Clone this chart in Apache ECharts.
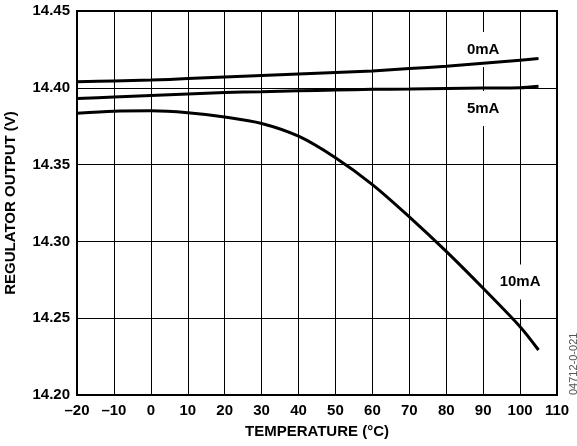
<!DOCTYPE html>
<html>
<head>
<meta charset="utf-8">
<script src="https://cdn.jsdelivr.net/npm/echarts@6/dist/echarts.min.js"></script>
<style>
  html, body { margin: 0; padding: 0; background: #fff; }
  #chart { width: 577px; height: 446px; }
</style>
</head>
<body>
<div id="chart"></div>
<script>
// Temperature sweep (°C) and regulator output (V) at three load currents
const temperature = [-20, -10, 0, 10, 20, 30, 40, 50, 60, 70, 80, 90, 100, 105];
const output0mA  = [14.404, 14.4045, 14.405, 14.406, 14.407, 14.408, 14.409, 14.410, 14.411, 14.4125, 14.414, 14.416, 14.418, 14.419];
const output5mA  = [14.393, 14.394, 14.395, 14.396, 14.397, 14.3975, 14.398, 14.3985, 14.399, 14.3992, 14.3995, 14.3998, 14.400, 14.401];
const output10mA = [14.3834, 14.3848, 14.385, 14.3838, 14.381, 14.3768, 14.3685, 14.3545, 14.337, 14.316, 14.2935, 14.2695, 14.2445, 14.2293];

const seriesNames = ['0mA', '5mA', '10mA'];
const seriesValues = [output0mA, output5mA, output10mA];
// where each curve's name tag sits, in data units (temperature, volts)
const tagTemps = [90, 90, 100];
const tagVolts = [14.425, 14.3865, 14.2735];

const xTicks = { min: -20, max: 110, step: 10 };
const yTicks = { min: 14.20, max: 14.45, step: 0.05 };

const font = '"Liberation Sans", Arial, Helvetica, sans-serif';

const chart = echarts.init(document.getElementById('chart'), null, { renderer: 'canvas' });

const series = seriesNames.map((name, i) => ({
  name: name,
  type: 'line',
  smooth: 0.3,
  showSymbol: false,
  symbol: 'none',
  z: 3,
  lineStyle: { color: '#000', width: 3 },
  data: temperature.map((t, k) => [t, seriesValues[i][k]]),
  markPoint: {
    symbol: 'rect',
    symbolSize: 0,
    silent: true,
    z: 2,
    label: {
      show: true,
      formatter: name,
      position: 'inside',
      color: '#000',
      fontFamily: font,
      fontWeight: 'bold',
      fontSize: 15,
      backgroundColor: '#fff',
      padding: [10, 2, 10, 2]
    },
    data: [{ coord: [tagTemps[i], tagVolts[i]] }]
  }
}));

chart.setOption({
  animation: false,
  backgroundColor: '#fff',
  grid: {
    left: 77, right: 20, top: 11, bottom: 51,
    containLabel: false,
    outerBoundsMode: 'none',
    show: true, borderColor: '#000', borderWidth: 2, backgroundColor: 'transparent'
  },
  xAxis: {
    type: 'value',
    min: xTicks.min, max: xTicks.max, interval: xTicks.step,
    name: 'TEMPERATURE (°C)',
    nameLocation: 'middle',
    nameGap: 29,
    nameTextStyle: { fontFamily: font, fontWeight: 'bold', fontSize: 15, color: '#000' },
    axisLine: { show: false },
    axisTick: { show: false },
    axisLabel: {
      margin: 8,
      fontFamily: font, fontWeight: 'bold', fontSize: 15, color: '#000',
      formatter: v => String(v).replace('-', '\u2013')
    },
    splitLine: { show: true, lineStyle: { color: '#000', width: 1 } }
  },
  yAxis: {
    type: 'value',
    min: yTicks.min, max: yTicks.max, interval: yTicks.step,
    name: 'REGULATOR OUTPUT (V)',
    nameLocation: 'middle',
    nameGap: 59,
    nameTextStyle: { fontFamily: font, fontWeight: 'bold', fontSize: 15, color: '#000' },
    axisLine: { show: false },
    axisTick: { show: false },
    axisLabel: {
      margin: 7,
      fontFamily: font, fontWeight: 'bold', fontSize: 15, color: '#000',
      formatter: v => v.toFixed(2)
    },
    splitLine: { show: true, lineStyle: { color: '#000', width: 1 } }
  },
  graphic: [{
    type: 'text',
    x: 574,
    y: 395,
    rotation: Math.PI / 2,
    style: {
      text: '04712-0-021',
      fill: '#555',
      font: '11px ' + font,
      textAlign: 'left',
      textVerticalAlign: 'middle'
    }
  }],
  series: series
});
</script>
</body>
</html>
